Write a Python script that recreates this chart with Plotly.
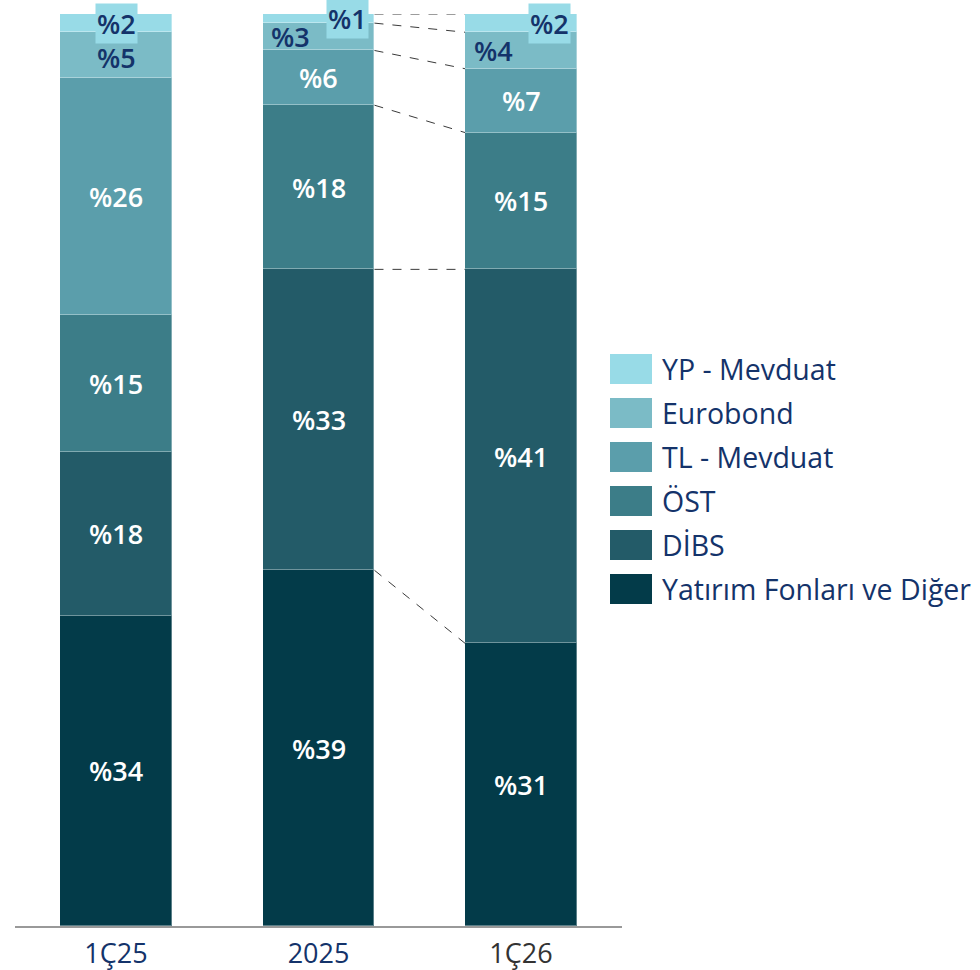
import plotly.graph_objects as go

# Portfolio composition by period (percent shares)
periods = ["1Ç25", "2025", "1Ç26"]
series_names = ["Yatırım Fonları ve Diğer", "DİBS", "ÖST", "TL - Mevduat", "Eurobond", "YP - Mevduat"]
yatirim_fonlari = [34, 39, 31]
dibs = [18, 33, 41]
ost = [15, 18, 15]
tl_mevduat = [26, 6, 7]
eurobond = [5, 3, 4]
yp_mevduat = [2, 1, 2]

series_values = [yatirim_fonlari, dibs, ost, tl_mevduat, eurobond, yp_mevduat]
colors = ["#033B49", "#235B68", "#3C7D88", "#5B9EAB", "#7BBBC6", "#98DBE7"]
navy = "#14336A"
font_family = "Open Sans"

# Layout geometry (pixels)
W, H = 980, 970
ml, mr, mt, mb = 15, 358, 14, 44
pw, ph = W - ml - mr, H - mt - mb
bar_width = 0.553
x_pos = list(range(len(periods)))


def px_to_paper(px, py):
    return (px - ml) / pw, 1 - (py - mt) / ph


fig = go.Figure()
for name, vals, col in zip(series_names, series_values, colors):
    fig.add_trace(go.Bar(
        x=x_pos, y=vals, name=name, width=bar_width,
        marker=dict(color=col, line=dict(color="rgba(255,255,255,0.35)", width=1)),
        showlegend=False, hoverinfo="skip",
    ))

# cumulative bases per bar
bases = []
running = [0] * len(periods)
for vals in series_values:
    bases.append(list(running))
    running = [r + v for r, v in zip(running, vals)]
tops = [[b + v for b, v in zip(bs, vals)] for bs, vals in zip(bases, series_values)]

annotations = []
label_font = dict(family=font_family, size=27, weight=600)
n = len(series_names)
for si, (vals, bs) in enumerate(zip(series_values, bases)):
    for bi, v in enumerate(vals):
        mid = bs[bi] + v / 2
        x = x_pos[bi]
        color = "white"
        bg = None
        yshift = 0
        if si == n - 1:  # YP - Mevduat: boxed label over the thin top segment
            color = navy
            bg = colors[-1]
            if bi > 0:
                x += 0.143
        elif si == n - 2:  # Eurobond
            color = navy
            if bi > 0:
                x -= 0.138
            else:
                yshift = -2
        ann = dict(x=x, y=mid, xref="x", yref="y", text=f"%{v}", showarrow=False, yshift=yshift,
                   font=dict(color=color, **label_font), xanchor="center", yanchor="middle")
        if bg:
            ann.update(bgcolor=bg, borderpad=1)
        annotations.append(ann)

# dashed connectors between the last two bars at every segment boundary
shapes = []
for level in range(n):
    shapes.append(dict(
        type="line", xref="x", yref="y",
        x0=x_pos[1] + bar_width / 2, x1=x_pos[2] - bar_width / 2,
        y0=tops[level][1], y1=tops[level][2],
        line=dict(color="#3a3a3a", width=1, dash="dash"),
    ))

# custom legend: large swatches with labels, top entry = top segment
legend_order = list(reversed(range(n)))
for row, si in enumerate(legend_order):
    top_px = 354 + 44 * row
    x0, y0 = px_to_paper(610, top_px)
    x1, y1 = px_to_paper(652, top_px + 30)
    shapes.append(dict(type="rect", xref="paper", yref="paper", x0=x0, x1=x1, y0=y1, y1=y0,
                       fillcolor=colors[si], line=dict(width=0)))
    tx, ty = px_to_paper(660, top_px + 15)
    annotations.append(dict(x=tx, y=ty, xref="paper", yref="paper", text=series_names[si],
                            showarrow=False, xanchor="left", yanchor="middle",
                            font=dict(family=font_family, size=28.5, color=navy)))

tick_colors = [navy, navy, "#333333"]
tick_text = [f'<span style="color:{c}">{p}</span>' for p, c in zip(periods, tick_colors)]

fig.update_layout(
    barmode="stack",
    width=W, height=H,
    margin=dict(l=ml, r=mr, t=mt, b=mb, pad=0),
    paper_bgcolor="white", plot_bgcolor="white",
    font=dict(family=font_family, color=navy),
    xaxis=dict(
        range=[-0.4988, 2.4988], tickmode="array", tickvals=x_pos, ticktext=tick_text,
        showgrid=False, zeroline=False, showline=True, linecolor="#999999", linewidth=2,
        ticks="", ticklabelstandoff=3,
        tickfont=dict(family=font_family, size=27, color=navy), fixedrange=True,
        automargin=False,
    ),
    yaxis=dict(range=[0, 100], visible=False, fixedrange=True, automargin=False),
    annotations=annotations,
    shapes=shapes,
    bargap=0,
)

fig.write_html("out.html")
